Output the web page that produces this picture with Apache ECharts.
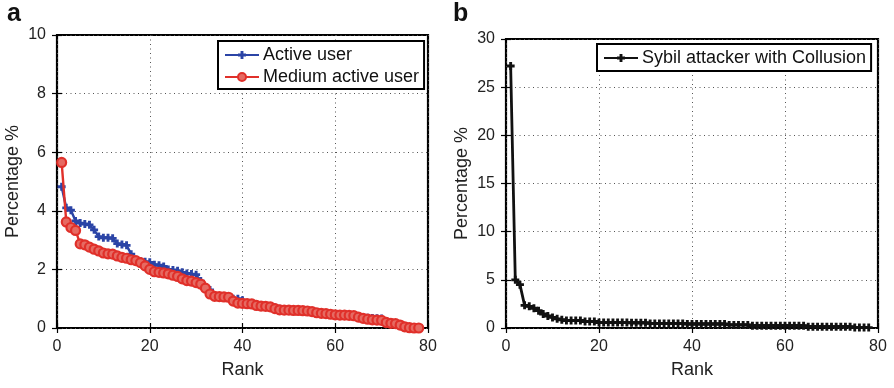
<!DOCTYPE html>
<html>
<head>
<meta charset="utf-8">
<script src="https://cdn.jsdelivr.net/npm/echarts@6/dist/echarts.min.js"></script>
<style>
html,body{margin:0;padding:0;background:#fff;}
#main{width:894px;height:388px;}
</style>
</head>
<body>
<div id="main"></div>
<script>
// ---- data ----
const ranks = [1,2,3,4,5,6,7,8,9,10,11,12,13,14,15,16,17,18,19,20,21,22,23,24,25,26,27,28,29,30,31,32,33,34,35,36,37,38,39,40,41,42,43,44,45,46,47,48,49,50,51,52,53,54,55,56,57,58,59,60,61,62,63,64,65,66,67,68,69,70,71,72,73,74,75,76,77,78];
const activeUser = [4.82,4.10,4.02,3.65,3.58,3.55,3.52,3.35,3.12,3.08,3.08,3.06,2.88,2.85,2.82,2.52,2.30,2.28,2.26,2.24,2.16,2.14,2.10,2.00,1.98,1.95,1.90,1.86,1.84,1.82,1.60,1.40,1.30,1.10,1.08,1.07,1.05,1.00,1.00,0.95,0.85,0.84,0.82,0.78,0.76,0.74,0.70,0.66,0.64,0.62,0.61,0.60,0.59,0.58,0.55,0.52,0.50,0.48,0.46,0.44,0.43,0.42,0.41,0.40,0.38,0.36,0.35,0.34,0.33,0.32,0.24,0.20,0.12,0.08,0.06,0.03,0.02,0.01];
const mediumUser = [5.65,3.62,3.43,3.33,2.87,2.84,2.76,2.69,2.63,2.56,2.53,2.52,2.46,2.41,2.38,2.33,2.30,2.23,2.12,2.00,1.92,1.90,1.88,1.85,1.80,1.76,1.68,1.62,1.60,1.55,1.50,1.36,1.16,1.08,1.07,1.06,1.05,0.92,0.85,0.84,0.83,0.82,0.77,0.75,0.74,0.72,0.66,0.62,0.61,0.61,0.60,0.60,0.59,0.58,0.56,0.52,0.50,0.49,0.47,0.45,0.44,0.44,0.43,0.42,0.37,0.33,0.30,0.28,0.27,0.26,0.19,0.16,0.15,0.10,0.04,0.01,0.00,0.00];
const sybil = [27.2,5.0,4.5,2.35,2.25,2.05,1.80,1.45,1.25,1.10,0.95,0.85,0.78,0.78,0.78,0.78,0.67,0.67,0.67,0.56,0.56,0.56,0.56,0.56,0.56,0.56,0.54,0.54,0.54,0.54,0.48,0.48,0.48,0.48,0.48,0.48,0.48,0.48,0.42,0.42,0.42,0.42,0.42,0.42,0.42,0.42,0.42,0.32,0.32,0.32,0.32,0.32,0.24,0.24,0.24,0.24,0.24,0.24,0.24,0.24,0.24,0.24,0.24,0.24,0.14,0.14,0.14,0.14,0.14,0.14,0.14,0.14,0.14,0.14,0.04,0.04,0.04,0.04];
const xTicks = [0,20,40,60,80];
const yTicksA = [0,2,4,6,8,10];
const yTicksB = [0,5,10,15,20,25,30];
const nameA1 = 'Active user', nameA2 = 'Medium active user', nameB = 'Sybil attacker with Collusion';

// ---- styles ----
const FONT = 'Liberation Sans, Arial, sans-serif';
const plus = 'path://M0.32,0H0.68V0.32H1V0.68H0.68V1H0.32V0.68H0V0.32H0.32Z';
const gridLine = {show:true, lineStyle:{color:'#555', width:1, type:[1,3.5]}};
function pairs(ys){ return ranks.map((r,i)=>[r, ys[i]]); }

function xAxisMain(gi){
  return {type:'value', gridIndex:gi, min:xTicks[0], max:xTicks[xTicks.length-1], interval:20,
    name:'Rank', nameLocation:'middle', nameGap:33,
    nameTextStyle:{fontFamily:FONT, fontSize:18, color:'#222'},
    axisLine:{show:false}, axisTick:{show:true, inside:true, length:5, lineStyle:{color:'#000', width:1.2}},
    axisLabel:{fontFamily:FONT, fontSize:16, color:'#222', margin:11},
    splitLine:gridLine};
}
function xAxisTop(gi){
  return {type:'value', gridIndex:gi, position:'top', min:0, max:80, interval:20,
    axisLine:{show:false}, axisTick:{show:true, inside:true, length:5, lineStyle:{color:'#000', width:1.2}},
    axisLabel:{show:false}, splitLine:{show:false}};
}
function yAxisMain(gi, max, itv){
  return {type:'value', gridIndex:gi, min:0, max:max, interval:itv,
    name:'Percentage %', nameLocation:'middle', nameGap:35,
    nameTextStyle:{fontFamily:FONT, fontSize:18, color:'#222'},
    axisLine:{show:false}, axisTick:{show:true, inside:true, length:5, lineStyle:{color:'#000', width:1.2}},
    axisLabel:{fontFamily:FONT, fontSize:16, color:'#222', margin:11},
    splitLine:gridLine};
}
function yAxisRight(gi, max, itv){
  return {type:'value', gridIndex:gi, position:'right', min:0, max:max, interval:itv,
    axisLine:{show:false}, axisTick:{show:true, inside:true, length:5, lineStyle:{color:'#000', width:1.2}},
    axisLabel:{show:false}, splitLine:{show:false}};
}

const chart = echarts.init(document.getElementById('main'), null, {renderer:'canvas'});
chart.setOption({
  backgroundColor:'#fff',
  animation:false,
  textStyle:{fontFamily:FONT},
  title:[
    {text:'a', left:2, top:-3, textStyle:{fontFamily:FONT, fontSize:25, fontWeight:'bold', color:'#111'}},
    {text:'b', left:448, top:-3, textStyle:{fontFamily:FONT, fontSize:25, fontWeight:'bold', color:'#111'}}
  ],
  grid:[
    {left:57, top:35, width:371, height:293, show:true, borderColor:'#000', borderWidth:2.2, backgroundColor:'#fff'},
    {left:506, top:39, width:372, height:289, show:true, borderColor:'#000', borderWidth:2.2, backgroundColor:'#fff'}
  ],
  xAxis:[xAxisMain(0), xAxisTop(0), xAxisMain(1), xAxisTop(1)],
  yAxis:[yAxisMain(0, 10, 2), yAxisRight(0, 10, 2), yAxisMain(1, 30, 5), yAxisRight(1, 30, 5)],
  legend:[
    {data:[nameA1, nameA2], orient:'vertical', left:218, top:41, itemGap:0, itemWidth:34, itemHeight:10,
     padding:[3,5,1,6], borderColor:'#000', borderWidth:2, backgroundColor:'#fff',
     textStyle:{fontFamily:FONT, fontSize:18, color:'#111', lineHeight:22, padding:[0,0,0,-1]}},
    {data:[nameB], orient:'vertical', left:597, top:44, itemGap:0, itemWidth:34, itemHeight:10,
     padding:[3,5,2,6], borderColor:'#000', borderWidth:2, backgroundColor:'#fff',
     textStyle:{fontFamily:FONT, fontSize:18, color:'#111', lineHeight:22, padding:[0,0,0,-1]}}
  ],
  series:[
    {name:nameA1, type:'line', xAxisIndex:0, yAxisIndex:0, data:pairs(activeUser),
     symbol:plus, symbolSize:8, lineStyle:{color:'#2b44a6', width:2.4}, itemStyle:{color:'#2b44a6'}, z:2},
    {name:nameA2, type:'line', xAxisIndex:0, yAxisIndex:0, data:pairs(mediumUser),
     symbol:'circle', symbolSize:9, lineStyle:{color:'#e0302a', width:2.4},
     itemStyle:{color:'#e66a62', borderColor:'#e0302a', borderWidth:2.2}, z:3},
    {name:nameB, type:'line', xAxisIndex:2, yAxisIndex:2, data:pairs(sybil),
     symbol:plus, symbolSize:8, lineStyle:{color:'#111', width:2.8}, itemStyle:{color:'#111'}, z:2}
  ]
});
</script>
</body>
</html>
